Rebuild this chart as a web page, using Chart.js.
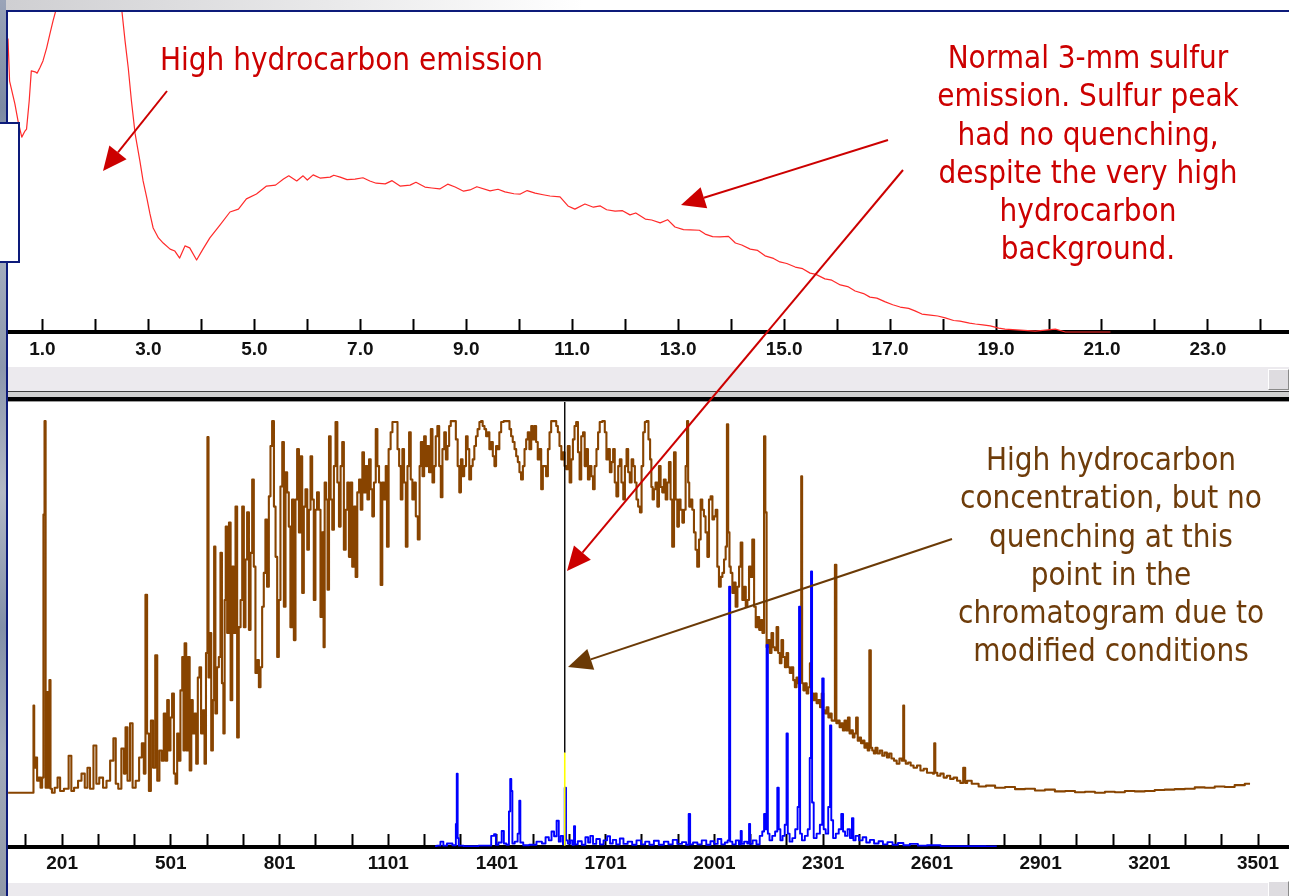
<!DOCTYPE html>
<html>
<head>
<meta charset="utf-8">
<script src="https://cdn.jsdelivr.net/npm/chart.js@4.4.1/dist/chart.umd.min.js"></script>
<style>
    html, body { margin: 0; padding: 0; }
    body { width: 1289px; height: 896px; position: relative; overflow: hidden; background: #ffffff; }
    .abs { position: absolute; }
    #fundoEsq { left: 0; top: 0; width: 6px; height: 896px;
        background: linear-gradient(180deg, #9aa4b8 0%, #7d8aa3 12%, #a8b0c0 27%, #8c97ad 41%, #b3b8c5 55%, #8390a8 70%, #a2aaba 84%, #9098a8 100%); }
    #fundoTopo { left: 6px; top: 0; width: 1283px; height: 10px;
        background: linear-gradient(90deg, #cfcfd2 0%, #e9e9ea 25%, #ffffff 45%); }
    #bordaTopo { left: 6px; top: 10px; width: 1283px; height: 2px; background: #0d1b7a; }
    #bordaEsq { left: 6px; top: 10px; width: 2px; height: 886px; background: #0d1b7a; }
    .barra { left: 8px; width: 1281px; background: #eceaee; }
    .botao { left: 1268px; width: 19px; background: #dedce0; border-top: 1px solid #fff; border-left: 1px solid #fff;
        border-bottom: 1px solid #8a8a8a; border-right: 1px solid #8a8a8a; }
    #separador { left: 8px; top: 391px; width: 1281px; height: 11px;
        background: linear-gradient(180deg, #3c3c3c 0 1px, #cfcfcf 1px 6px, #000 6px 10px, #9a9a9a 10px 11px); }
    #caixa { left: 0; top: 122px; width: 18px; height: 137px; background: #fff; border: 2px solid #0d1b7a; border-left: none; }
    canvas { position: absolute; }
    #graficoCima { left: 8px; top: 12px; }
    #graficoBaixo { left: 8px; top: 402px; }
    #setas { left: 0; top: 0; }
    .nota { position: absolute; font-family: 'DejaVu Sans', sans-serif; font-size: 32px; line-height: 38.3px; white-space: nowrap; }
    .vermelha { color: #cc0000; }
    .marrom { color: #6e3c0a; }
    .centro { width: 600px; text-align: center; transform-origin: 50% 0; }
    #nota1 { left: 160px; top: 40px; transform-origin: 0 0; }
    #nota2 { left: 788px; top: 38px; }
    #nota3 { left: 811px; top: 440px; }
</style>
</head>
<body>
<div id="fundoEsq" class="abs"></div>
<div id="fundoTopo" class="abs"></div>
<canvas id="graficoCima" width="1281" height="355"></canvas>
<div class="abs barra" style="top:367px;height:24px"></div>
<div class="abs botao" style="top:369px;height:19px"></div>
<div id="separador" class="abs"></div>
<canvas id="graficoBaixo" width="1281" height="481"></canvas>
<div class="abs barra" style="top:883px;height:13px"></div>
<div class="abs botao" style="top:881px;height:16px"></div>
<div id="bordaTopo" class="abs"></div>
<div id="bordaEsq" class="abs"></div>
<div id="caixa" class="abs"></div>
<svg id="setas" class="abs" width="1289" height="896"></svg>
<div id="nota1" class="nota vermelha"><span id="medida">High hydrocarbon emission</span></div>
<div id="nota2" class="nota vermelha centro">Normal 3-mm sulfur<br>emission. Sulfur peak<br>had no quenching,<br>despite the very high<br>hydrocarbon<br>background.</div>
<div id="nota3" class="nota marrom centro">High hydrocarbon<br>concentration, but no<br>quenching at this<br>point in the<br>chromatogram due to<br>modified conditions</div>

<script>
// Marcas e rótulos do eixo de tempo (gráfico de cima)
const ticksCima = [1, 2, 3, 4, 5, 6, 7, 8, 9, 10, 11, 12, 13, 14, 15, 16, 17, 18, 19, 20, 21, 22, 23, 24];
const rotulosCima = ['1.0', '', '3.0', '', '5.0', '', '7.0', '', '9.0', '', '11.0', '', '13.0', '', '15.0', '', '17.0', '', '19.0', '', '21.0', '', '23.0', ''];

// Marcas e rótulos do eixo de pontos (gráfico de baixo)
const ticksBaixo = [101, 201, 301, 401, 501, 601, 701, 801, 901, 1001, 1101, 1201, 1301, 1401, 1501, 1601, 1701, 1801, 1901, 2001, 2101, 2201, 2301, 2401, 2501, 2601, 2701, 2801, 2901, 3001, 3101, 3201, 3301, 3401, 3501];
const rotulosBaixo = ['', '201', '', '', '501', '', '', '801', '', '', '1101', '', '', '1401', '', '', '1701', '', '', '2001', '', '', '2301', '', '', '2601', '', '', '2901', '', '', '3201', '', '', '3501'];

// Emissão de enxofre (tempo em min, intensidade relativa)
const curvaVermelha = [
    [0.35, 91.7], [0.38, 78.4], [0.48, 71.3], [0.54, 65.9], [0.61, 60.9], [0.67, 62.8], [0.70, 63.4], [0.75, 72.2],
    [0.79, 81.6], [0.86, 81.3], [0.90, 80.9], [0.95, 82.5], [1.01, 84.7], [1.08, 88.8], [1.14, 93.1], [1.20, 97.2],
    [1.25, 100.3], [1.5, 118], [1.9, 125], [2.3, 115], [2.5, 100.3], [2.56, 90.9], [2.62, 82.5], [2.68, 72.2],
    [2.75, 61.9], [2.84, 53.4], [2.90, 47.2], [2.97, 41.9], [3.03, 36.9], [3.09, 32.5], [3.19, 29.4], [3.28, 27.8],
    [3.41, 25.9], [3.50, 25.3], [3.59, 23.1], [3.69, 26.9], [3.78, 26.3], [3.91, 22.5], [4.03, 25.9], [4.16, 29.4],
    [4.35, 33.4], [4.54, 37.5], [4.70, 38.4], [4.85, 41.6], [5.04, 43.1], [5.23, 45.6], [5.40, 45.9], [5.55, 47.8],
    [5.65, 48.8], [5.80, 47.2], [5.92, 48.8], [6.0, 47.5], [6.11, 49.1], [6.24, 48.1], [6.43, 48.4], [6.5, 49.0],
    [6.62, 48.4], [6.75, 47.6], [6.90, 47.8], [7.05, 48.2], [7.18, 47.2], [7.3, 46.5], [7.47, 46.3], [7.6, 47.3],
    [7.75, 45.6], [7.94, 45.9], [8.05, 46.8], [8.22, 45.3], [8.35, 45.0], [8.50, 44.7], [8.65, 46.2], [8.79, 45.3],
    [8.95, 44.0], [9.07, 44.4], [9.2, 45.4], [9.45, 44.1], [9.6, 44.6], [9.73, 43.8], [9.9, 43.2], [10.02, 43.1],
    [10.15, 44.2], [10.30, 43.4], [10.45, 42.9], [10.58, 42.5], [10.77, 42.2], [10.92, 39.4], [11.05, 38.4], [11.24, 40.0],
    [11.40, 39.0], [11.53, 39.4], [11.65, 38.2], [11.81, 37.8], [11.95, 37.9], [12.09, 36.6], [12.2, 37.2], [12.38, 35.3],
    [12.5, 35.0], [12.66, 34.1], [12.8, 35.1], [12.94, 32.8], [13.1, 32.0], [13.23, 31.9], [13.4, 31.8], [13.51, 30.6],
    [13.65, 29.8], [13.79, 29.7], [13.95, 29.9], [14.08, 27.8], [14.2, 27.2], [14.36, 25.9], [14.5, 25.5], [14.64, 23.8],
    [14.8, 23.0], [14.92, 21.9], [15.05, 21.4], [15.21, 20.3], [15.35, 19.8], [15.49, 18.4], [15.6, 18.0], [15.77, 16.6],
    [15.9, 16.2], [16.06, 14.7], [16.2, 14.2], [16.34, 12.8], [16.5, 12.0], [16.62, 10.9], [16.75, 10.6], [16.91, 9.4],
    [17.05, 8.5], [17.19, 7.8], [17.35, 7.4], [17.47, 6.6], [17.6, 5.6], [17.76, 5.3], [17.9, 5.0], [18.04, 4.4],
    [18.2, 3.6], [18.32, 3.4], [18.5, 2.8], [18.61, 2.5], [18.75, 2.2], [18.89, 1.9], [19.05, 1.2], [19.17, 0.9],
    [19.46, 0.6], [19.74, 0.3], [19.93, 0.6], [20.12, 0.9], [20.31, 0], [20.59, 0], [20.87, 0], [21.16, 0]
];

// Traço de hidrocarbonetos (ponto, intensidade)
const tracoMarrom = [
    [52, 12.2], [121, 12.2], [123, 31.8], [125, 17.8], [130, 20.1], [134, 14.9], [139, 15.6], [144, 13.3], [148, 15.6],
    [151, 74.7], [154, 95.7], [157, 13.3], [160, 34.8], [164, 13.3], [168, 37.5], [170, 13.1], [176, 12.2], [185, 13.3],
    [192, 15.6], [199, 12.6], [213, 13.1], [225, 20.5], [228, 12.6], [240, 13.3], [250, 14.9], [259, 16.5], [268, 13.3],
    [274, 17.8], [282, 13.1], [293, 22.8], [298, 14.2], [309, 15.6], [319, 13.3], [328, 14.9], [339, 19.4], [346, 24.4],
    [352, 14.2], [360, 13.1], [369, 22.1], [374, 16.5], [378, 26.9], [385, 14.9], [392, 27.8], [399, 13.3], [409, 14.9],
    [418, 20.1], [424, 23.3], [429, 16.5], [433, 56.7], [438, 25.5], [443, 12.6], [449, 28.4], [455, 17.8], [461, 43.1],
    [466, 14.9], [473, 21.7], [479, 19.4], [484, 30.0], [489, 19.4], [493, 33.0], [498, 21.7], [502, 29.1], [507, 34.5],
    [512, 16.5], [516, 14.2], [521, 25.5], [525, 19.4], [530, 35.2], [535, 42.7], [537, 21.7], [541, 45.8], [546, 21.7],
    [550, 42.7], [556, 17.2], [559, 33.0], [564, 25.5], [569, 30.0], [573, 18.7], [578, 38.1], [582, 40.4], [587, 25.5],
    [592, 30.7], [596, 18.7], [600, 43.6], [604, 92.1], [606, 38.1], [610, 48.1], [615, 21.7], [619, 33.0], [622, 67.5],
    [626, 30.0], [631, 40.4], [636, 42.7], [640, 66.1], [644, 36.8], [648, 25.5], [651, 55.5], [654, 72.0], [659, 48.1],
    [664, 72.9], [668, 33.0], [673, 63.0], [677, 48.1], [682, 76.5], [686, 24.6], [691, 49.4], [696, 55.5], [700, 76.5],
    [705, 49.4], [709, 64.6], [714, 75.2], [719, 48.8], [723, 66.1], [728, 82.6], [732, 63.0], [737, 39.1], [742, 42.0],
    [746, 35.9], [751, 40.4], [755, 54.0], [760, 61.6], [764, 73.6], [769, 58.5], [774, 78.8], [778, 90.1], [783, 95.7],
    [788, 76.5], [792, 65.2], [797, 42.7], [801, 55.5], [806, 81.0], [811, 91.0], [815, 54.0], [820, 84.2], [824, 79.7],
    [829, 72.0], [833, 49.4], [838, 78.1], [843, 46.5], [847, 78.1], [852, 89.4], [857, 70.7], [861, 87.8], [866, 57.1],
    [870, 76.5], [875, 80.4], [880, 66.8], [884, 75.8], [889, 87.8], [893, 78.1], [898, 55.5], [902, 75.8], [907, 79.7],
    [912, 75.8], [916, 51.7], [921, 70.7], [924, 44.9], [927, 81.9], [932, 78.1], [935, 57.8], [940, 92.3], [944, 78.1],
    [949, 71.3], [953, 85.6], [958, 95.5], [963, 81.9], [967, 72.0], [972, 85.6], [976, 91.0], [981, 66.8], [986, 75.8],
    [990, 81.9], [995, 65.2], [999, 81.9], [1004, 63.0], [1009, 76.5], [1013, 60.7], [1018, 79.7], [1023, 82.6], [1027, 75.8],
    [1032, 88.7], [1036, 79.7], [1041, 85.6], [1046, 78.1], [1050, 87.1], [1055, 80.4], [1059, 74.3], [1064, 81.9], [1069, 93.9],
    [1073, 85.6], [1078, 81.9], [1082, 58.9], [1087, 81.9], [1092, 78.1], [1096, 85.6], [1099, 67.5], [1105, 89.4], [1110, 93.2],
    [1115, 95.5], [1124, 95.5], [1129, 89.4], [1133, 85.6], [1138, 78.1], [1142, 89.4], [1147, 81.9], [1152, 67.5], [1156, 85.6],
    [1161, 93.2], [1165, 82.6], [1170, 78.1], [1175, 81.9], [1179, 74.3], [1186, 69.1], [1189, 85.6], [1193, 91.0], [1198, 83.3],
    [1202, 92.3], [1207, 85.6], [1211, 90.1], [1216, 84.2], [1221, 93.9], [1225, 81.9], [1230, 85.6], [1234, 92.3], [1239, 94.6],
    [1244, 85.6], [1248, 78.6], [1253, 89.4], [1258, 93.2], [1262, 87.1], [1267, 90.1], [1271, 94.6], [1276, 95.7], [1285, 95.7],
    [1290, 91.6], [1295, 85.6], [1299, 79.7], [1304, 87.1], [1308, 83.3], [1313, 85.6], [1318, 92.3], [1322, 89.4], [1327, 82.6],
    [1332, 85.6], [1336, 87.1], [1341, 90.1], [1345, 92.3], [1350, 93.9], [1355, 95.5], [1359, 95.7], [1364, 94.6], [1369, 93.9],
    [1373, 92.3], [1378, 93.2], [1382, 89.4], [1387, 91.0], [1392, 87.8], [1396, 85.6], [1401, 90.1], [1405, 89.4], [1410, 93.2],
    [1415, 95.5], [1424, 95.7], [1433, 95.7], [1438, 93.9], [1442, 92.3], [1447, 91.0], [1452, 89.4], [1456, 87.8], [1461, 86.5],
    [1465, 84.2], [1470, 82.6], [1475, 85.6], [1479, 89.4], [1484, 91.6], [1488, 93.2], [1493, 89.4], [1498, 94.6], [1502, 91.6],
    [1507, 94.6], [1511, 91.0], [1516, 87.1], [1521, 89.4], [1525, 80.4], [1530, 85.6], [1534, 85.6], [1539, 83.3], [1544, 89.4],
    [1548, 93.2], [1553, 95.7], [1562, 95.7], [1567, 94.6], [1571, 93.2], [1576, 90.1], [1581, 87.1], [1585, 88.7], [1590, 85.6],
    [1594, 84.9], [1599, 90.1], [1604, 81.9], [1608, 87.1], [1613, 91.6], [1617, 94.6], [1622, 95.5], [1627, 88.7], [1631, 82.6],
    [1636, 92.3], [1641, 93.2], [1645, 85.6], [1650, 89.4], [1654, 82.6], [1659, 85.6], [1664, 83.3], [1668, 80.4], [1673, 85.6],
    [1678, 89.4], [1682, 93.2], [1687, 95.5], [1696, 95.7], [1701, 93.2], [1705, 87.1], [1710, 89.4], [1715, 84.2], [1719, 86.5],
    [1724, 89.4], [1728, 81.9], [1733, 78.8], [1738, 85.6], [1742, 87.1], [1747, 81.9], [1752, 78.1], [1756, 85.6], [1761, 89.4],
    [1765, 84.2], [1770, 81.9], [1775, 87.1], [1779, 85.6], [1784, 81.9], [1788, 78.1], [1793, 76.5], [1798, 75.2], [1802, 85.6],
    [1807, 93.2], [1811, 95.5], [1816, 95.7], [1822, 91.6], [1825, 87.1], [1829, 80.9], [1832, 78.1], [1836, 80.4], [1841, 81.9],
    [1846, 76.5], [1850, 85.6], [1855, 80.9], [1859, 79.7], [1864, 82.6], [1869, 78.1], [1873, 81.9], [1878, 86.5], [1882, 78.1],
    [1887, 67.5], [1892, 88.7], [1896, 78.1], [1901, 72.0], [1905, 78.1], [1910, 75.8], [1915, 72.9], [1919, 75.8], [1924, 85.6],
    [1927, 95.7], [1930, 81.9], [1933, 76.5], [1938, 78.1], [1942, 75.8], [1947, 70.7], [1951, 66.8], [1956, 63.0], [1961, 69.1],
    [1965, 78.1], [1970, 75.8], [1974, 74.3], [1979, 70.7], [1984, 65.2], [1988, 78.1], [1993, 78.8], [1998, 73.6], [2002, 74.3],
    [2007, 75.8], [2011, 63.0], [2016, 58.5], [2021, 60.7], [2025, 61.6], [2030, 64.6], [2034, 67.5], [2037, 95.0], [2041, 70.7],
    [2044, 63.0], [2048, 61.6], [2053, 57.1], [2057, 59.4], [2062, 54.0], [2067, 58.5], [2071, 63.0], [2076, 68.4], [2080, 55.5],
    [2085, 58.5], [2090, 54.0], [2094, 55.5], [2099, 63.0], [2103, 60.7], [2108, 69.1], [2113, 54.0], [2117, 49.4], [2122, 51.7],
    [2127, 48.8], [2131, 51.0], [2136, 48.1], [2140, 92.3], [2143, 75.2], [2147, 44.9], [2152, 46.5], [2156, 43.6], [2161, 48.1],
    [2165, 44.9], [2170, 44.2], [2175, 49.4], [2179, 43.6], [2184, 41.3], [2188, 46.5], [2193, 42.7], [2198, 40.4], [2202, 43.6],
    [2207, 40.4], [2211, 39.1], [2216, 40.4], [2221, 37.5], [2225, 35.9], [2230, 38.1], [2234, 36.8], [2239, 37.5], [2242, 83.3],
    [2244, 36.8], [2249, 35.2], [2253, 36.8], [2258, 34.5], [2262, 35.9], [2267, 41.3], [2272, 34.5], [2276, 33.0], [2281, 34.5],
    [2285, 32.3], [2290, 33.0], [2295, 31.4], [2299, 34.5], [2304, 30.7], [2308, 30.0], [2313, 31.4], [2318, 29.1], [2322, 30.0],
    [2327, 28.4], [2331, 28.4], [2336, 63.4], [2339, 27.8], [2344, 28.4], [2349, 26.9], [2353, 27.8], [2358, 26.2], [2362, 28.4],
    [2367, 26.2], [2372, 29.1], [2376, 25.5], [2381, 26.2], [2385, 24.6], [2390, 25.5], [2394, 29.1], [2399, 23.9], [2403, 24.6],
    [2408, 23.3], [2413, 23.9], [2417, 22.3], [2422, 23.3], [2426, 21.7], [2431, 44.2], [2434, 22.3], [2439, 21.7], [2443, 21.0],
    [2448, 22.3], [2454, 21.0], [2461, 21.7], [2467, 20.5], [2474, 21.2], [2480, 20.1], [2486, 21.0], [2493, 19.9], [2500, 19.4],
    [2508, 18.7], [2515, 19.9], [2521, 19.4], [2523, 31.8], [2526, 19.4], [2532, 18.7], [2539, 19.0], [2546, 18.3], [2555, 17.8],
    [2565, 18.3], [2574, 17.2], [2583, 17.6], [2592, 16.7], [2601, 16.7], [2606, 16.5], [2609, 23.3], [2612, 16.7], [2620, 16.0],
    [2629, 16.5], [2638, 15.6], [2647, 16.0], [2656, 15.3], [2666, 15.6], [2675, 14.9], [2684, 14.4], [2691, 17.8], [2695, 14.4],
    [2702, 14.9], [2720, 14.2], [2740, 13.6], [2761, 13.8], [2790, 13.3], [2816, 13.5], [2845, 13.0], [2871, 13.1], [2900, 12.7],
    [2926, 12.9], [2955, 12.5], [2982, 12.6], [3010, 12.3], [3037, 12.4], [3065, 12.2], [3092, 12.4], [3120, 12.3], [3147, 12.6],
    [3175, 12.5], [3202, 12.6], [3230, 12.8], [3257, 12.9], [3285, 13.0], [3313, 13.1], [3340, 13.4], [3368, 13.3], [3395, 13.6],
    [3423, 13.5], [3450, 13.9], [3479, 14.2]
];

// Traço de enxofre (ponto, intensidade)
const tracoAzul = [
    [1230, 0.2], [1240, 0.3], [1250, 1.2], [1256, 0.3], [1270, 0.8], [1286, 0.4], [1289, 5.2], [1291, 16.5], [1294, 2.0],
    [1297, 0.3], [1320, 0.2], [1380, 0.3], [1390, 2.5], [1396, 2.9], [1400, 0.5], [1410, 1.0], [1418, 3.6], [1422, 0.8],
    [1432, 0.5], [1436, 8.0], [1439, 15.3], [1442, 12.6], [1445, 0.8], [1455, 1.2], [1461, 3.0], [1464, 10.4], [1467, 1.0],
    [1480, 0.4], [1500, 0.5], [1520, 1.2], [1530, 0.8], [1540, 2.2], [1548, 1.5], [1555, 3.5], [1562, 2.4], [1569, 5.9],
    [1574, 1.2], [1580, 2.5], [1586, 0.6], [1590, 13.3], [1593, 1.5], [1600, 0.8], [1606, 1.5], [1612, 0.5], [1615, 4.7],
    [1618, 0.6], [1630, 1.3], [1640, 0.5], [1650, 2.2], [1655, 1.0], [1662, 2.5], [1670, 0.7], [1680, 1.8], [1690, 0.6],
    [1700, 1.5], [1710, 2.4], [1716, 0.8], [1725, 1.6], [1735, 0.6], [1745, 1.9], [1755, 0.7], [1768, 1.2], [1780, 0.5],
    [1792, 1.5], [1805, 0.6], [1815, 1.2], [1828, 0.5], [1840, 1.4], [1855, 0.5], [1868, 1.2], [1880, 0.6], [1892, 1.6],
    [1905, 0.7], [1918, 1.1], [1928, 0.5], [1932, 7.4], [1936, 0.6], [1948, 1.0], [1960, 0.6], [1972, 1.5], [1985, 0.5],
    [1995, 1.3], [2005, 0.7], [2015, 1.8], [2025, 0.6], [2035, 1.0], [2040, 1.5], [2043, 58.5], [2046, 1.2], [2055, 0.6],
    [2065, 1.5], [2072, 0.6], [2075, 3.6], [2078, 0.7], [2088, 1.2], [2095, 0.8], [2098, 5.2], [2101, 0.7], [2112, 1.5],
    [2122, 0.6], [2130, 2.5], [2136, 3.5], [2140, 7.4], [2143, 4.0], [2147, 45.4], [2150, 3.0], [2156, 1.5], [2165, 2.5],
    [2172, 3.5], [2177, 13.3], [2180, 4.0], [2186, 1.5], [2192, 2.5], [2198, 5.0], [2202, 25.5], [2205, 3.0], [2212, 1.2],
    [2220, 2.0], [2228, 4.0], [2233, 9.0], [2236, 54.0], [2239, 3.0], [2246, 1.5], [2255, 2.5], [2262, 4.0], [2266, 20.0],
    [2269, 61.9], [2272, 10.0], [2278, 2.0], [2288, 3.0], [2296, 5.0], [2301, 37.9], [2304, 4.0], [2312, 3.0], [2318, 9.0],
    [2322, 27.3], [2325, 6.0], [2332, 2.0], [2340, 3.0], [2348, 4.0], [2354, 7.4], [2358, 3.5], [2365, 2.5], [2372, 4.0],
    [2378, 2.0], [2383, 6.5], [2386, 1.5], [2395, 2.5], [2405, 1.5], [2415, 2.2], [2425, 1.0], [2435, 1.6], [2448, 0.8],
    [2460, 1.3], [2472, 0.6], [2485, 1.1], [2500, 0.5], [2515, 0.9], [2530, 0.4], [2550, 0.7], [2575, 0.3], [2600, 0.4],
    [2650, 0.2], [2720, 0.2], [2780, 0.1]
];

// Posição do cursor vertical e altura do trecho amarelo
const cursorX = 1588;
const cursorAmarelo = 21.2;

// Converte pares em pontos do Chart.js
const paraPontos = pares => pares.map(p => ({ x: p[0], y: p[1] }));

// Eixo X comum aos dois gráficos: marcas para dentro, rótulos em negrito
function eixoX(min, max, valores, rotulos, altura, espaco) {
    return {
        type: 'linear',
        min: min,
        max: max,
        afterBuildTicks: escala => { escala.ticks = valores.map(v => ({ value: v })); },
        afterFit: escala => {
            escala.height = altura;
            // sem folga lateral: a área do gráfico ocupa toda a largura
            escala.paddingLeft = 0;
            escala.paddingRight = 0;
        },
        grid: { display: true, drawOnChartArea: false, drawTicks: true, tickLength: -13, tickWidth: 2, tickColor: '#000' },
        border: { display: true, color: '#000', width: 4 },
        ticks: {
            autoSkip: false, maxRotation: 0, minRotation: 0, padding: espaco, color: '#111',
            font: { family: 'Liberation Sans', size: 19, weight: 'bold' },
            callback: (v, i) => rotulos[i]
        }
    };
}

const eixoY = { type: 'linear', display: false, min: 0, max: 100 };

const opcoesBase = {
    responsive: false,
    animation: false,
    devicePixelRatio: 1,
    events: [],
    layout: { padding: 0, autoPadding: false },
    plugins: { legend: { display: false }, tooltip: { enabled: false } },
    elements: { point: { radius: 0 }, line: { tension: 0, borderJoinStyle: 'round' } }
};

// Gráfico de cima: emissão de enxofre
new Chart(document.getElementById('graficoCima'), {
    type: 'line',
    data: {
        datasets: [{
            data: paraPontos(curvaVermelha),
            borderColor: '#ff2a2a',
            borderWidth: 1.2,
            clip: { left: 0, top: 0, right: 0, bottom: 3 }
        }]
    },
    options: Object.assign({}, opcoesBase, {
        scales: { x: eixoX(0.35, 24.53, ticksCima, rotulosCima, 35, 19), y: eixoY }
    })
});

// Gráfico de baixo: hidrocarbonetos, enxofre e cursor
new Chart(document.getElementById('graficoBaixo'), {
    type: 'line',
    data: {
        datasets: [
            { data: [{ x: cursorX, y: 0.3 }, { x: cursorX, y: cursorAmarelo }], borderColor: '#ffff00', borderWidth: 1.6 },
            { data: [{ x: cursorX, y: cursorAmarelo }, { x: cursorX, y: 100 }], borderColor: '#000', borderWidth: 1.4 },
            { data: paraPontos(tracoAzul), borderColor: '#0000ff', borderWidth: 1.9, stepped: 'middle' },
            { data: paraPontos(tracoMarrom), borderColor: '#884400', borderWidth: 2.1, stepped: 'middle' }
        ]
    },
    options: Object.assign({}, opcoesBase, {
        scales: { x: eixoX(51.7, 3586.5, ticksBaixo, rotulosBaixo, 36, 18), y: eixoY }
    })
});

// Setas das anotações (início, ponta, cor)
const setas = [
    [167, 91, 103, 171, '#cc0000'],
    [888, 140, 681, 205, '#cc0000'],
    [903, 170, 567, 571, '#cc0000'],
    [952, 539, 568, 667, '#6b3a06']
];

function desenharSetas() {
    const svg = document.getElementById('setas');
    let html = '';
    setas.forEach(([x1, y1, x2, y2, cor]) => {
        const ang = Math.atan2(y2 - y1, x2 - x1);
        const comp = 24, meia = 11;
        const bx = x2 - comp * Math.cos(ang), by = y2 - comp * Math.sin(ang);
        const px = -Math.sin(ang) * meia, py = Math.cos(ang) * meia;
        html += `<line x1="${x1}" y1="${y1}" x2="${bx}" y2="${by}" stroke="${cor}" stroke-width="2"/>`;
        html += `<polygon points="${x2},${y2} ${bx + px},${by + py} ${bx - px},${by - py}" fill="${cor}"/>`;
    });
    svg.innerHTML = html;
}
desenharSetas();

// Ajusta a largura das notas à do original
function ajustarNotas() {
    const largura = document.getElementById('medida').getBoundingClientRect().width;
    const fator = 383 / largura;
    ['nota1', 'nota2', 'nota3'].forEach(id => {
        document.getElementById(id).style.transform = `scaleX(${fator})`;
    });
}
ajustarNotas();
</script>
</body>
</html>
